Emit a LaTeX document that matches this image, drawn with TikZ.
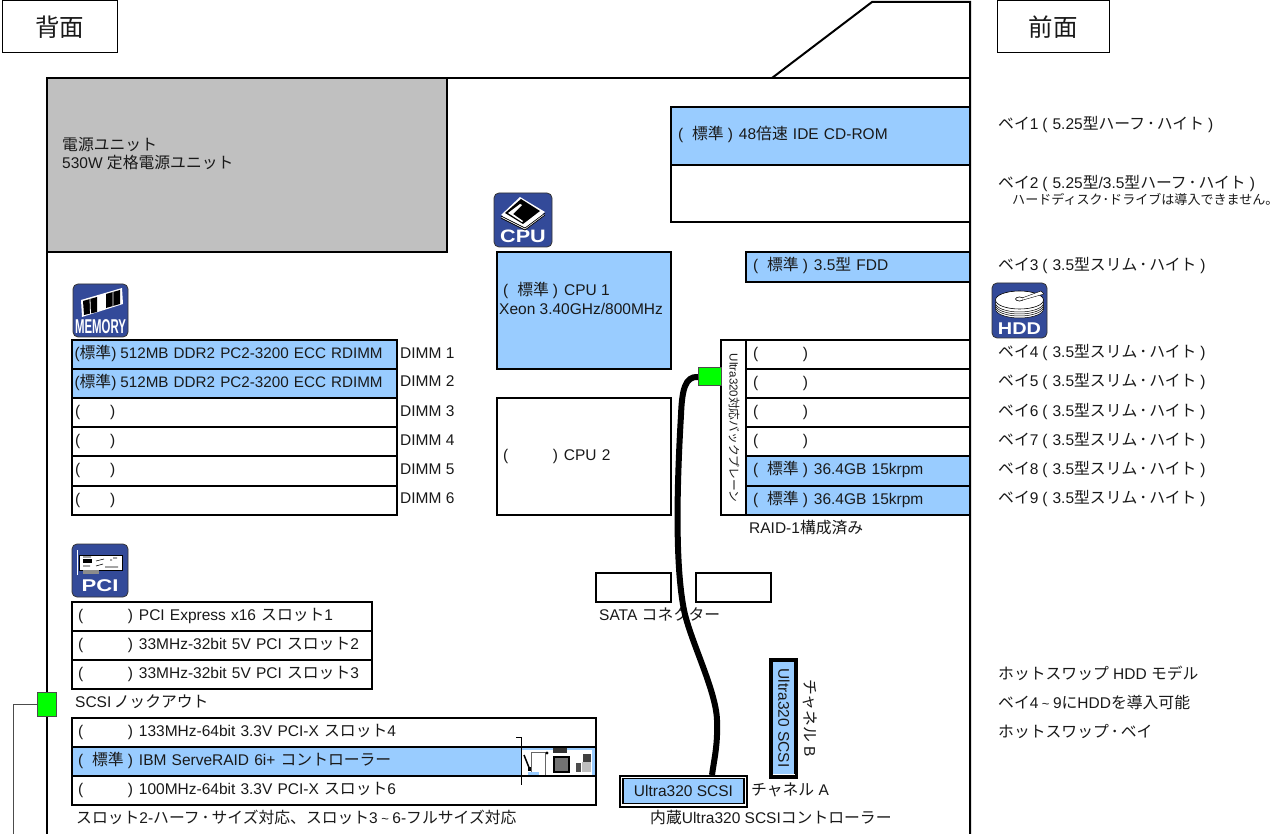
\documentclass[tikz,border=0pt]{standalone}
\usepackage{fontspec}
\setmainfont{Liberation Sans}
\newfontfamily\cj[Scale=1.02]{Noto Sans CJK JP}
\newcommand{\J}[1]{{\cj #1}}
\newcommand{\fs}{\fontsize{15.5}{18}\selectfont}
\newcommand{\Std}{(\hspace{9pt}\J{標準}\hspace{4pt})\hspace{6pt}}
\newcommand{\Emp}{(\hspace{44.6pt})\hspace{6pt}}
\newcommand{\Lp}{\hspace{4pt}(\hspace{5pt}}
\newcommand{\Rp}{\hspace{4pt})}
\newcommand{\Dt}{\hspace{2pt}\J{･}\hspace{2pt}}
\newcommand{\Tl}{\hspace{3.5pt}{\fontsize{13}{14}\selectfont\char"007E}\hspace{3.5pt}}
\newcommand{\Dimm}{\hspace*{2.5pt}(\J{標準})\hspace{4pt}{\fontsize{15.2}{18}\selectfont 512MB DDR2 PC2-3200 ECC RDIMM}}
\definecolor{bay}{HTML}{99CCFF}
\definecolor{psu}{HTML}{C0C0C0}
\definecolor{icon}{HTML}{334A99}
\definecolor{conn}{HTML}{00FF00}
\tikzset{
  every node/.style={font=\fs,text=black!90},
  lbl/.style={anchor=west,inner sep=0pt,text height=11pt,text depth=0pt},
  part/.style={draw=black,line width=2pt,anchor=north west,inner xsep=0pt,inner ysep=0pt,outer sep=0pt,align=left,
     text height=11pt,text depth=3pt,minimum height=0pt},
  thinbox/.style={draw=black,line width=1pt,anchor=north west,inner sep=0pt,outer sep=0pt},
  face/.style={draw=black,line width=1pt,inner sep=0pt,outer sep=0pt,font=\fontsize{24}{28}\selectfont\cj},
  wall/.style={draw=black,line width=2pt},
  jack/.style={draw=black!70,fill=conn,line width=1pt,inner sep=0pt,outer sep=0pt,anchor=north west},
  cable/.style={draw=black,line width=6pt},
  badge/.style={draw=black!80,fill=icon,line width=.8pt,rounded corners=5pt,inner sep=0pt,outer sep=0pt,anchor=north west},
  badgetext/.style={text=white,font=\bfseries\fontsize{#1}{#1}\selectfont,inner sep=0pt}
}
% name, x, y, w, h, fill, text
\newcommand{\partbox}[7]{\node[part,fill=#6,minimum width=#4pt,minimum height=#5pt,text width=#4pt] (#1) at (#2,#3) {#7};}
\begin{document}
\begin{tikzpicture}[x=1pt,y=-1pt]
\useasboundingbox (0,0) rectangle (1286,834);
\fill[white] (0,0) rectangle (1286,834);
% faces
\node[face,minimum width=115pt,minimum height=52pt,anchor=north west] (back) at (2,1) {背面};
\node[face,minimum width=112pt,minimum height=52pt,anchor=north west] (front) at (997,1) {前面};
% chassis
\draw[wall] (47,834) -- (47,78) -- (970,78);
\draw[wall] (970,834) -- (970,2) -- (872,2) -- (772,78);
% power
\partbox{psu1}{47}{78}{400}{174}{psu}{}
\node[lbl] (psut1) at (62,145) {\J{電源ユニット}};
\node[lbl] (psut2) at (62,163) {530W \J{定格電源ユニット}};
% drive bays top
\partbox{b1}{671}{107}{299}{58}{bay}{\hspace*{7pt}\Std 48\J{倍速} IDE CD-ROM}
\partbox{b2}{671}{165}{299}{57}{white}{}
\partbox{b3}{746}{252}{224}{30}{bay}{\hspace*{7pt}\Std 3.5\J{型} FDD}
% cpu
\node[part,fill=bay,minimum width=174pt,minimum height=117pt] (cpu1) at (497,252) {};
\node[lbl] (cput1) at (503,290) {\Std CPU 1};
\node[lbl] (cput2) at (499,309) {Xeon 3.40GHz/800MHz};
\partbox{cpu2}{497}{398}{174}{117}{white}{\hspace*{6pt}\Emp CPU 2}
% dimms
\partbox{d1}{72}{340}{325}{29}{bay}{\Dimm}
\partbox{d2}{72}{369}{325}{29}{bay}{\Dimm}
\partbox{d3}{72}{398}{325}{29}{white}{\hspace*{3pt}(\hspace*{30pt})}
\partbox{d4}{72}{427}{325}{29}{white}{\hspace*{3pt}(\hspace*{30pt})}
\partbox{d5}{72}{456}{325}{30}{white}{\hspace*{3pt}(\hspace*{30pt})}
\partbox{d6}{72}{486}{325}{29}{white}{\hspace*{3pt}(\hspace*{30pt})}
\foreach \n/\y in {1/353,2/381,3/411,4/440,5/469,6/498} \node[lbl] (dl\n) at (400,\y) {DIMM \n};
% backplane & drives
\node[part,fill=white,minimum width=25pt,minimum height=175pt] (bp) at (721,340) {};
\node[inner sep=0pt,rotate=-90,font=\fontsize{11.5}{13}\selectfont] (bpt) at (734,428) {Ultra320\J{対応バックプレーン}};
\partbox{h1}{746}{340}{224}{29}{white}{\hspace*{7pt}\Emp}
\partbox{h2}{746}{369}{224}{29}{white}{\hspace*{7pt}\Emp}
\partbox{h3}{746}{398}{224}{29}{white}{\hspace*{7pt}\Emp}
\partbox{h4}{746}{427}{224}{29}{white}{\hspace*{7pt}\Emp}
\partbox{h5}{746}{456}{224}{30}{bay}{\hspace*{7pt}\Std 36.4GB 15krpm}
\partbox{h6}{746}{486}{224}{29}{bay}{\hspace*{7pt}\Std 36.4GB 15krpm}
\node[lbl] (raid) at (749,528) {RAID-1\J{構成済み}};
% sata
\node[thinbox,line width=1.5pt,minimum width=75pt,minimum height=29pt] (sa) at (596,573) {};
\node[thinbox,line width=1.5pt,minimum width=75pt,minimum height=29pt] (sb) at (696,573) {};
\node[lbl] (sat) at (599,615) {SATA \J{コネクター}};
% pci
\partbox{p1}{72}{602}{300}{29}{white}{\hspace*{6pt}\Emp PCI Express x16 \J{スロット}1}
\partbox{p2}{72}{631}{300}{29}{white}{\hspace*{6pt}\Emp 33MHz-32bit 5V PCI \J{スロット}2}
\partbox{p3}{72}{660}{300}{29}{white}{\hspace*{6pt}\Emp 33MHz-32bit 5V PCI \J{スロット}3}
\node[lbl] (knock) at (75,702) {SCSI\,\J{ノックアウト}};
\partbox{s4}{72}{718}{524}{29}{white}{\hspace*{6pt}\Emp 133MHz-64bit 3.3V PCI-X \J{スロット}4}
\partbox{s5}{72}{747}{524}{29}{bay}{\hspace*{6pt}\Std IBM ServeRAID 6i+ \J{コントローラー}}
\partbox{s6}{72}{776}{524}{29}{white}{\hspace*{6pt}\Emp 100MHz-64bit 3.3V PCI-X \J{スロット}6}
\node[lbl] (cap) at (76,818) {\J{スロット}2-\J{ハーフ}\Dt\J{サイズ対応、スロット}3\Tl 6-\J{フルサイズ対応}};
% card picture
\fill[white] (521,750) rectangle (592,775);
\draw[black,line width=1pt] (516,737) -- (521,737) -- (521,785);
\draw[black!60,line width=.6pt] (531,752) -- (545,752) -- (545,775) (531,752) -- (531,775);
\draw[black,line width=1.5pt] (524,755) -- (530,770);
\fill[black] (528,767) rectangle (531,771);
\fill[bay] (528,772) rectangle (539,775);
\fill[black] (547,753) circle (1.6);
\fill[black!80] (553,748) rectangle (567,753);
\fill[black!55] (554,757) rectangle (569,772);
\draw[black,line width=1.5pt] (554,757) rectangle (569,772);
\fill[black!70] (576,763) rectangle (581,772);
\fill[black!75] (583,754) rectangle (591,762);
\fill[black!25] (582,762) rectangle (591,772);
% jacks
\node[jack,minimum width=23pt,minimum height=18pt] (jb) at (698,368) {};
\node[jack,minimum width=19pt,minimum height=24pt] (jk) at (37,692) {};
\coordinate (lk) at (13,834);
\draw[black!70,line width=1pt] (jk.west) -- (13,704) -- (lk);
% scsi
\node[draw=black,fill=white,line width=2pt,inner sep=0pt,outer sep=0pt,anchor=north west,minimum width=127pt,minimum height=31pt] (ca) at (620,775.5) {};
\node[draw=black,fill=bay,line width=1.5pt,inner sep=0pt,outer sep=0pt,anchor=north west,minimum width=121pt,minimum height=25pt] (cai) at (623,778.5) {Ultra320 SCSI};
\node[lbl] (chat) at (751,790) {\J{チャネル} A};
\node[lbl] (ctrl) at (650,818) {\J{内蔵}Ultra320 SCSI\J{コントローラー}};
\node[draw=black,fill=bay,line width=3.5pt,inner sep=0pt,outer sep=0pt,anchor=north west,minimum width=25pt,minimum height=117pt] (cb) at (771,660) {};
\draw[white,line width=1pt] (772.5,774.5) -- (794.5,774.5);
\node[inner sep=0pt,rotate=-90] (cbt) at (784,718) {Ultra320 SCSI};
\node[inner sep=0pt,rotate=-90] (cbl) at (810,718) {\J{チャネル} B};
% cable
\draw[cable] (jb.west) .. controls (685,376) and (682,390) .. (681,415) .. controls (676,500) and (676,570) .. (684,610) .. controls (690,640) and (716,690) .. (717,720) .. controls (718,745) and (714,760) .. (712,775);
% right labels
\node[lbl] (r1) at (998,124) {\J{ベイ}1\Lp 5.25\J{型ハーフ}\Dt\J{ハイト}\Rp};
\node[lbl] (r2) at (998,183) {\J{ベイ}2\Lp 5.25\J{型}/3.5\J{型ハーフ}\Dt\J{ハイト}\Rp};
\node[lbl,font=\fontsize{12.8}{14}\selectfont] (r2b) at (1012,199) {\J{ハードディスク･ドライブは導入できません。}};
\node[lbl] (r3) at (998,265) {\J{ベイ}3\Lp 3.5\J{型スリム}\Dt\J{ハイト}\Rp};
\foreach \n/\y in {4/352,5/381,6/411,7/440,8/469,9/498}
  \node[lbl] (r\n) at (998,\y) {\J{ベイ}\n\Lp 3.5\J{型スリム}\Dt\J{ハイト}\Rp};
\node[lbl] (m1) at (998,674) {\J{ホットスワップ} HDD \J{モデル}};
\node[lbl] (m2) at (998,703) {\J{ベイ}4\Tl 9\J{に}HDD\J{を導入可能}};
\node[lbl] (m3) at (998,732) {\J{ホットスワップ}\Dt\J{ベイ}};
% CPU badge
\node[badge,minimum width=58pt,minimum height=54pt] (icpu) at (494,193) {};
\node[badgetext=18,xscale=1.2] (icput) at (523,236) {CPU};
\fill[white] (501,218) -- (520,203) -- (545,215) -- (525,230) -- cycle;
\draw[black,line width=.7pt] (501,218) -- (525,230) -- (545,215) (501,216) -- (525,228) -- (545,213);
\fill[white] (501,215) -- (520,197) -- (545,212) -- (525,227) -- cycle;
\fill[black] (505,213) -- (521,199) -- (540,211) -- (523,224) -- cycle;
\fill[white] (508,213) -- (520,204) -- (522,205) -- (513,214) -- (523,221) -- (522,222) -- cycle;
% MEMORY badge
\node[badge,minimum width=55pt,minimum height=53pt] (imem) at (73,284) {};
\node[badgetext=20,xscale=.57] (imemt) at (100.5,327) {MEMORY};
\fill[white] (81,300) -- (122,288) -- (123,304) -- (82,317) -- cycle;
\fill[black] (83,301) -- (97,297) -- (97,312) -- (84,315) -- cycle;
\fill[black] (106,294) -- (120,290) -- (120,304) -- (106,308) -- cycle;
\draw[white,line width=.8pt] (90,299) -- (90.5,314) (113,292) -- (113,306);
% PCI badge
\node[badge,minimum width=56pt,minimum height=53pt] (ipci) at (72,544) {};
\node[badgetext=17,xscale=1.3] (ipcit) at (100,586) {PCI};
\fill[white] (79,555) rectangle (122,570);
\draw[black,line width=.4pt] (79,555) rectangle (122,570);
\draw[white,line width=1pt] (77.5,550) -- (77.5,575);
\fill[black] (83,559) rectangle (92,563);
\fill[black!45] (83,570) rectangle (99,574);
\draw[black,line width=.6pt] (83,557) -- (91,557) (96,561) -- (104,559) (96,566) -- (103,564) (110,560) -- (112,560) (113,558) -- (117,558) (105,567) -- (118,567) (83,566) -- (90,566);
% HDD badge
\node[badge,minimum width=55pt,minimum height=55pt] (ihdd) at (992,283) {};
\node[badgetext=17,xscale=1.17] (ihddt) at (1019.5,329) {HDD};
\foreach \y in {309,307,305,303}
  \draw[black,fill=white,line width=.5pt] (1019.5,\y) ellipse (24 and 9);
\draw[black,fill=white,line width=.6pt] (1019.5,300) ellipse (24 and 9);
\draw[black,fill=white,line width=.6pt] (1019.5,299) ellipse (4 and 2);
\fill[white] (1022,298) -- (1041,291) -- (1044,294) -- (1023,300) -- cycle;
\draw[black,line width=.4pt] (1022,298) -- (1041,291) -- (1044,294) -- (1023,300);
\end{tikzpicture}
\end{document}
